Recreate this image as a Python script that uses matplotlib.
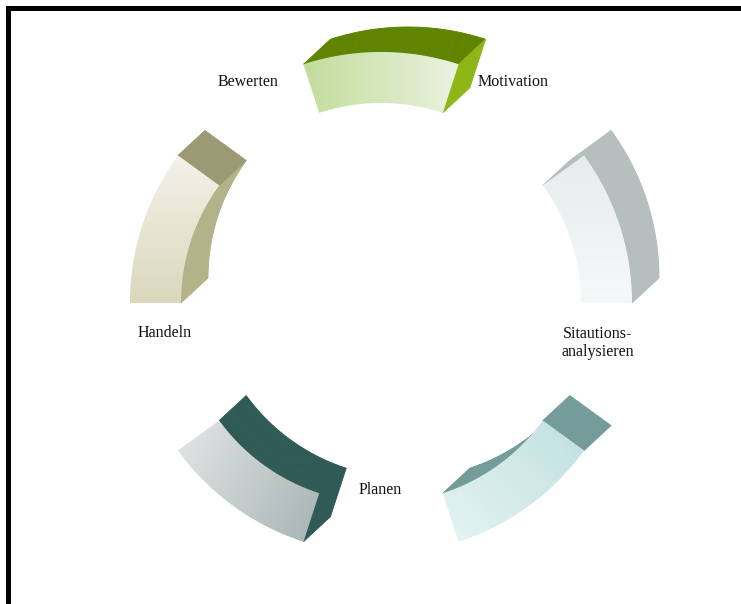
import matplotlib.pyplot as plt
import numpy as np
from matplotlib.patches import Polygon
from matplotlib.colors import LinearSegmentedColormap

# ring segments (angles in degrees, counter-clockwise from 3 o'clock)
seg_start = [72, 0, 288, 216, 144]
seg_end = [108, 36, 324, 252, 180]

# front face gradient (from, to), side face and end cap colours
front_from = ["#c3dd9c", "#e8eced", "#e6f3f3", "#e3e6e6", "#f4f2ea"]
front_to = ["#eaf2df", "#f6f8f9", "#c0e0e0", "#a7b3b3", "#dbd7bc"]
grad_angle = [0, -90, 40, -25, -90]
side_color = ["#5f8400", "#b7bebe", "#749c9a", "#2f5a55", "#b3b288"]
cap_color = ["#8cb716", "#b7bebe", "#749c9a", "#2f5a55", "#9c9a74"]
curved_face = ["outer", "outer", "inner", "inner", "inner"]
cap_side = ["start", "end", "end", "end", "start"]

labels = ["Motivation", "Sitautions-\nanalysieren", "Planen", "Handeln", "Bewerten"]
label_xy = [(513, 82), (598, 343), (380, 490), (165, 333), (248, 82)]

# layout (pixels)
CX, CY = 381, 303
R_IN, R_OUT = 200, 251
DEPTH = np.array([27, -25])  # screen offset of the back face


def pt(r, a):
    a = np.radians(a)
    return np.array([CX + r * np.cos(a), CY - r * np.sin(a)])


def visible(normal):
    # normal in math coords, depth in screen coords -> flip y
    return normal[0] * DEPTH[0] - normal[1] * DEPTH[1] > 0


def gradient_fill(ax, verts, c0, c1, angle):
    poly = Polygon(verts, closed=True, facecolor="none", edgecolor="none")
    ax.add_patch(poly)
    x0, y0 = verts.min(axis=0)
    x1, y1 = verts.max(axis=0)
    xx, yy = np.meshgrid(np.linspace(0, 1, 100), np.linspace(0, 1, 100))
    a = np.radians(angle)
    # row 0 is the top of the box, angle measured upward
    g = xx * np.cos(a) - yy * np.sin(a)
    g = (g - g.min()) / (g.max() - g.min())
    cmap = LinearSegmentedColormap.from_list("g", [c0, c1])
    im = ax.imshow(g, cmap=cmap, extent=(x0, x1, y1, y0), origin="upper",
                   interpolation="bilinear", zorder=3)
    im.set_clip_path(poly)


fig = plt.figure(figsize=(7.41, 6.04), dpi=100)
ax = fig.add_axes([0, 0, 1, 1])
ax.set_xlim(0, 741)
ax.set_ylim(604, 0)
ax.axis("off")

for i in range(len(seg_start)):
    a0, a1 = seg_start[i], seg_end[i]
    angs = np.linspace(a0, a1, 60)
    # curved face, drawn strip by strip
    r, sgn = (R_OUT, 1) if curved_face[i] == "outer" else (R_IN, -1)
    for k in range(len(angs) - 1):
        am = np.radians((angs[k] + angs[k + 1]) / 2)
        if visible(sgn * np.array([np.cos(am), np.sin(am)])):
            p0, p1 = pt(r, angs[k]), pt(r, angs[k + 1])
            quad = np.array([p0, p1, p1 + DEPTH, p0 + DEPTH])
            ax.add_patch(Polygon(quad, closed=True, facecolor=side_color[i],
                                 edgecolor=side_color[i], lw=0.6, zorder=2))
    # end cap
    a = a0 if cap_side[i] == "start" else a1
    p0, p1 = pt(R_IN, a), pt(R_OUT, a)
    quad = np.array([p0, p1, p1 + DEPTH, p0 + DEPTH])
    ax.add_patch(Polygon(quad, closed=True, facecolor=cap_color[i],
                         edgecolor=cap_color[i], lw=0.6, zorder=2.5))
    # front face
    outer = np.array([pt(R_OUT, a) for a in angs])
    inner = np.array([pt(R_IN, a) for a in angs[::-1]])
    front = np.vstack([outer, inner])
    gradient_fill(ax, front, front_from[i], front_to[i], grad_angle[i])

for txt, (x, y) in zip(labels, label_xy):
    ax.text(x, y, txt, ha="center", va="center", fontsize=11.5,
            family="Liberation Serif", color="#111111", linespacing=1.25, zorder=5)

# frame lines (left and top)
ax.plot([8, 8], [604, 7.5], color="black", lw=3.6, solid_capstyle="projecting", zorder=6)
ax.plot([8, 741], [7.5, 7.5], color="black", lw=3.6, solid_capstyle="projecting", zorder=6)

fig.savefig("out.png", dpi=100)
